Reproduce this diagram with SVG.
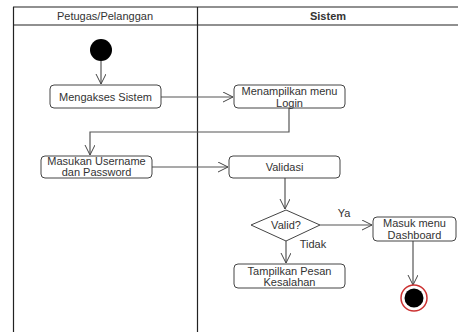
<svg xmlns="http://www.w3.org/2000/svg" width="458" height="332" viewBox="0 0 458 332">
<defs>
<marker id="arr" markerWidth="12" markerHeight="12" refX="10" refY="5" orient="auto" markerUnits="userSpaceOnUse">
<path d="M0,0 L10,5 L0,10" fill="none" stroke="#444" stroke-width="1"/>
</marker>
<style>
text{font-family:"Liberation Sans",Arial,sans-serif;font-size:11px;fill:#333;text-anchor:middle;dominant-baseline:central}
.box{fill:#fff;stroke:#444;stroke-width:1}
.ln{fill:none;stroke:#555;stroke-width:1.2}
.lane{fill:none;stroke:#222;stroke-width:1.2}
</style>
</defs>
<rect width="458" height="332" fill="#fff"/>
<g id="swimlane">
<line class="lane" x1="13" y1="7" x2="458" y2="7"/>
<line class="lane" x1="13" y1="25" x2="458" y2="25" stroke="#555"/>
<line class="lane" x1="13.5" y1="7" x2="13.5" y2="332"/>
<line class="lane" x1="197.5" y1="7" x2="197.5" y2="332"/>
<text x="105" y="16">Petugas/Pelanggan</text>
<text x="328" y="16" font-weight="bold">Sistem</text>
</g>
<g id="connectors">
<line class="ln" x1="101" y1="61" x2="101" y2="84" marker-end="url(#arr)"/>
<line class="ln" x1="161" y1="97" x2="233" y2="97" marker-end="url(#arr)"/>
<polyline class="ln" points="289,108 289,132 90,132 90,155" marker-end="url(#arr)"/>
<line class="ln" x1="152" y1="167" x2="228" y2="167" marker-end="url(#arr)"/>
<line class="ln" x1="285" y1="178" x2="285" y2="209" marker-end="url(#arr)"/>
<line class="ln" x1="320" y1="225" x2="372" y2="225" marker-end="url(#arr)"/>
<line class="ln" x1="286" y1="241" x2="286" y2="263" marker-end="url(#arr)"/>
<line class="ln" x1="413" y1="241" x2="413" y2="285" marker-end="url(#arr)"/>
<text x="344" y="213">Ya</text>
<text x="313" y="244">Tidak</text>
</g>
<g id="start"><circle cx="101" cy="50" r="11" fill="#000"/></g>
<g id="mengakses"><rect class="box" x="50" y="85" width="111" height="23" rx="4"/><text x="105.5" y="96.5">Mengakses Sistem</text></g>
<g id="menampilkan"><rect class="box" x="234" y="85" width="111" height="23" rx="4"/><text x="289.5" y="91">Menampilkan menu</text><text x="289.5" y="102.5">Login</text></g>
<g id="masukan"><rect class="box" x="41" y="156" width="111" height="22" rx="4"/><text x="96.5" y="161">Masukan Username</text><text x="96.5" y="172">dan Password</text></g>
<g id="validasi"><rect class="box" x="229" y="156" width="111" height="22" rx="4"/><text x="284.5" y="167">Validasi</text></g>
<g id="valid"><polygon class="box" points="286,210 320,225 286,241 251,225"/><text x="286" y="225">Valid?</text></g>
<g id="masuk"><rect class="box" x="373" y="217" width="83" height="24" rx="4"/><text x="414.5" y="223">Masuk menu</text><text x="414.5" y="235">Dashboard</text></g>
<g id="tampilkan"><rect class="box" x="234" y="264" width="111" height="24" rx="4"/><text x="289.5" y="270.5">Tampilkan Pesan</text><text x="289.5" y="282">Kesalahan</text></g>
<g id="end"><circle cx="414" cy="298" r="13" fill="#fff" stroke="#c33" stroke-width="1.5"/><circle cx="414" cy="298" r="9.5" fill="#000"/></g>
</svg>
